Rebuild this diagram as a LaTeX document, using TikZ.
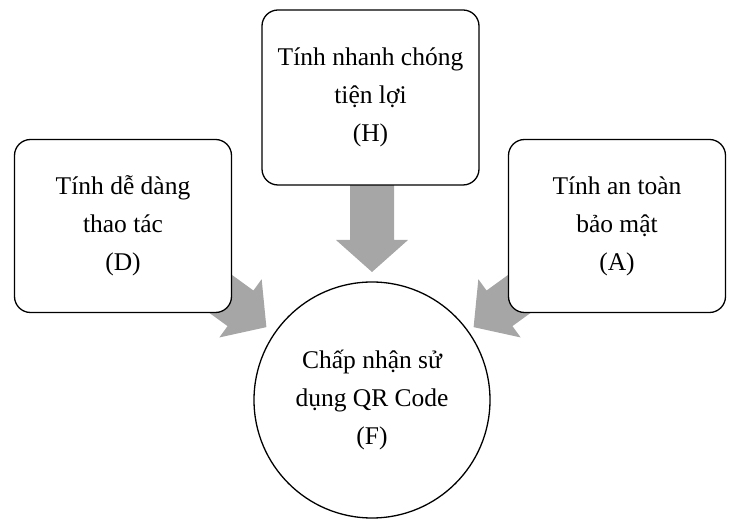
\documentclass[tikz,border=0pt]{standalone}
\usepackage{fontspec}
\setmainfont{Liberation Serif}
\newcommand\blockarrow[3]{%
  \begin{scope}[shift={(#1,#2)},rotate=#3]
    \fill[arrowgray] (0,22)--(55,22)--(55,36)--(87,0)--(55,-36)--(55,-22)--(0,-22)--cycle;
  \end{scope}}
\definecolor{arrowgray}{RGB}{166,166,166}
\tikzset{
  box/.style={draw=black,line width=1.3pt,rounded corners=16pt,fill=white,minimum width=217pt,minimum height=173pt,align=center,font=\fontsize{25.5}{38}\selectfont},
  circ/.style={draw=black,line width=1.3pt,circle,fill=white,minimum size=236pt,align=center,font=\fontsize{25.5}{38}\selectfont}
}
\begin{document}
\begin{tikzpicture}[x=1pt,y=1pt]
\useasboundingbox (0,0) rectangle (748,-526);
\blockarrow{372}{-185}{-90}
\blockarrow{196}{-276}{-36}
\blockarrow{544}{-276}{-144}
\node[box,minimum height=175pt] (H) at (370.5,-97.5) {Tính nhanh chóng\\tiện lợi\\(H)};
\node[box] (D) at (123,-226) {Tính dễ dàng\\thao tác\\(D)};
\node[box] (A) at (617,-226) {Tính an toàn\\bảo mật\\(A)};
\node[circ] (F) at (372,-400) {Chấp nhận sử\\dụng QR Code\\(F)};
\end{tikzpicture}
\end{document}
